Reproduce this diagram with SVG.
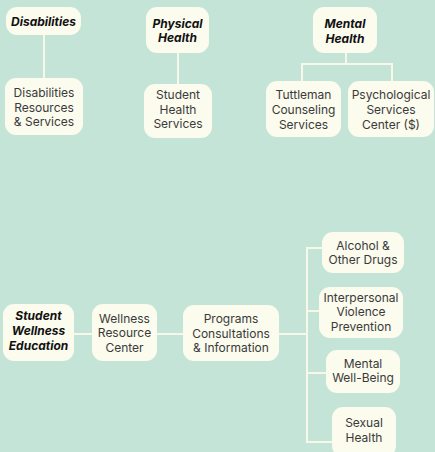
<svg xmlns="http://www.w3.org/2000/svg" width="435" height="452" viewBox="0 0 435 452">
  <style>
    .bg { fill: #c4e4d8; }
    .box { fill: #fbfbee; }
    .wire { fill: none; stroke: #f7f8ea; stroke-width: 2; }
    text { font-family: Inter, "Noto Sans", "Liberation Sans", sans-serif; font-size: 12px; text-anchor: middle; fill: #3a3a3a; }
    .head { font-weight: bold; font-style: italic; fill: #111; }
  </style>
  <rect class="bg" x="0" y="0" width="435" height="452"/>

  <g id="connectors">
    <path class="wire" d="M44 35 V78"/>
    <path class="wire" d="M178 53 V84"/>
    <path class="wire" d="M346 53 V64 M302 64 H392 M302 63 V81 M392 63 V81"/>
    <path class="wire" d="M74 334 H92 M157 334 H183 M279 334 H307"/>
    <path class="wire" d="M307 248 V442 M306 248 H322 M307 311 H319 M307 373 H326 M306 442 H332"/>
  </g>

  <g id="disabilities">
    <rect class="box" x="6" y="7" width="75" height="28" rx="11"/>
    <text class="head" x="43.5" y="26">Disabilities</text>
  </g>
  <g id="disabilities-resources">
    <rect class="box" x="5" y="78" width="78" height="57" rx="11"/>
    <text x="44" y="97">Disabilities</text>
    <text x="44" y="111.5">Resources</text>
    <text x="44" y="126">&amp; Services</text>
  </g>

  <g id="physical-health">
    <rect class="box" x="146" y="7" width="63" height="46" rx="11"/>
    <text class="head" x="177.5" y="27.5">Physical</text>
    <text class="head" x="177.5" y="42">Health</text>
  </g>
  <g id="student-health-services">
    <rect class="box" x="144" y="84" width="68" height="54" rx="11"/>
    <text x="178" y="99">Student</text>
    <text x="178" y="113.5">Health</text>
    <text x="178" y="128">Services</text>
  </g>

  <g id="mental-health">
    <rect class="box" x="313" y="7" width="64" height="46" rx="11"/>
    <text class="head" x="345" y="28">Mental</text>
    <text class="head" x="345" y="42.5">Health</text>
  </g>
  <g id="tuttleman">
    <rect class="box" x="266" y="81" width="75" height="56" rx="11"/>
    <text x="303.5" y="99">Tuttleman</text>
    <text x="303.5" y="114">Counseling</text>
    <text x="303.5" y="129">Services</text>
  </g>
  <g id="psychological-services">
    <rect class="box" x="348" y="81" width="86" height="56" rx="11"/>
    <text x="391" y="99">Psychological</text>
    <text x="391" y="114">Services</text>
    <text x="391" y="129">Center ($)</text>
  </g>

  <g id="student-wellness-education">
    <rect class="box" x="3" y="304" width="71" height="57" rx="11"/>
    <text class="head" x="38.5" y="320">Student</text>
    <text class="head" x="38.5" y="335">Wellness</text>
    <text class="head" x="38.5" y="350">Education</text>
  </g>
  <g id="wellness-resource-center">
    <rect class="box" x="92" y="304" width="65" height="57" rx="11"/>
    <text x="124.5" y="322.5">Wellness</text>
    <text x="124.5" y="337">Resource</text>
    <text x="124.5" y="351.5">Center</text>
  </g>
  <g id="programs">
    <rect class="box" x="183" y="305" width="96" height="56" rx="11"/>
    <text x="231" y="323">Programs</text>
    <text x="231" y="337.5">Consultations</text>
    <text x="231" y="352">&amp; Information</text>
  </g>

  <g id="alcohol">
    <rect class="box" x="322" y="232" width="82" height="41" rx="11"/>
    <text x="363" y="249.5">Alcohol &amp;</text>
    <text x="363" y="264">Other Drugs</text>
  </g>
  <g id="interpersonal-violence">
    <rect class="box" x="319" y="287" width="84" height="51" rx="11"/>
    <text x="361" y="301.5">Interpersonal</text>
    <text x="361" y="316">Violence</text>
    <text x="361" y="330.5">Prevention</text>
  </g>
  <g id="mental-well-being">
    <rect class="box" x="326" y="350" width="74" height="43" rx="11"/>
    <text x="363" y="367.5">Mental</text>
    <text x="363" y="382">Well-Being</text>
  </g>
  <g id="sexual-health">
    <rect class="box" x="332" y="407" width="64" height="50" rx="11"/>
    <text x="364" y="427">Sexual</text>
    <text x="364" y="441.5">Health</text>
  </g>
</svg>
